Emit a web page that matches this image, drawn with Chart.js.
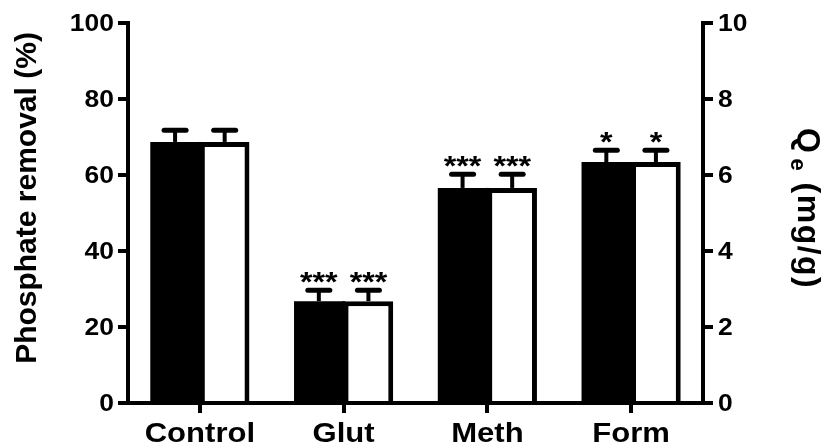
<!DOCTYPE html>
<html>
<head>
<meta charset="utf-8">
<script src="https://cdn.jsdelivr.net/npm/chart.js@4"></script>
<style>
  html, body { margin: 0; padding: 0; background: #ffffff; }
  canvas { display: block; }
</style>
</head>
<body>
<canvas id="chart" width="827" height="447"></canvas>
<script>
// Treatment groups on the x axis
const categories = ['Control', 'Glut', 'Meth', 'Form'];

// Phosphate removal (%) - left axis, filled bars
const removalPct = [68.7, 26.8, 56.6, 63.4];
const removalErr = [3.1, 2.9, 3.6, 3.1];
const removalStars = ['', '***', '***', '*'];

// Adsorption capacity Qe (mg/g) - right axis, open bars
const qeValues = [6.87, 2.68, 5.66, 6.34];
const qeErr = [0.31, 0.29, 0.36, 0.31];
const qeStars = ['', '***', '***', '*'];

// Axis tick values
const leftTicks = [0, 20, 40, 60, 80, 100];
const rightTicks = [0, 2, 4, 6, 8, 10];

const FONT = "'Liberation Sans', Arial, Helvetica, sans-serif";
const INK = '#000000';
const TEXT_STRETCH = 1.15;   // labels are set slightly wide

const errorInfo = [
  { err: removalErr, stars: removalStars },
  { err: qeErr, stars: qeStars }
];

function wideText(ctx, text, x, y, align) {
  ctx.save();
  ctx.translate(x, y);
  ctx.scale(TEXT_STRETCH, 1);
  ctx.textAlign = align;
  ctx.fillText(text, 0, 0);
  ctx.restore();
}

// Closes the anti-aliased seam where the filled and open bars of a pair meet
const pairSeamPlugin = {
  id: 'pairSeam',
  afterDatasetsDraw(chart) {
    const ctx = chart.ctx;
    const filled = chart.getDatasetMeta(0).data;
    const open = chart.getDatasetMeta(1).data;
    ctx.save();
    ctx.fillStyle = INK;
    filled.forEach((b, i) => {
      const o = open[i];
      const edge = b.x + b.width / 2;
      const top = Math.max(b.y, o.y);
      const base = Math.min(b.base, o.base);
      ctx.fillRect(edge - 1.5, top, 3, base - top);
    });
    ctx.restore();
  }
};

// Upward error bars with significance marks above each bar
const errorBarPlugin = {
  id: 'errorBars',
  afterDatasetsDraw(chart) {
    const ctx = chart.ctx;
    chart.data.datasets.forEach((ds, d) => {
      const meta = chart.getDatasetMeta(d);
      const scale = chart.scales[ds.yAxisID];
      const info = errorInfo[d];
      meta.data.forEach((bar, i) => {
        const v = ds.data[i];
        const yTop = scale.getPixelForValue(v);
        const yCap = scale.getPixelForValue(v + info.err[i]);
        const x = bar.x;
        ctx.save();
        ctx.strokeStyle = INK;
        ctx.lineCap = 'butt';
        ctx.lineWidth = 4;
        ctx.beginPath();
        ctx.moveTo(x, yTop);
        ctx.lineTo(x, yCap);
        ctx.stroke();
        ctx.lineCap = 'round';
        ctx.lineWidth = 5;
        ctx.beginPath();
        ctx.moveTo(x - 11, yCap);
        ctx.lineTo(x + 11, yCap);
        ctx.stroke();
        const s = info.stars[i];
        if (s) {
          ctx.fillStyle = INK;
          ctx.font = 'bold 28px ' + FONT;
          ctx.textBaseline = 'alphabetic';
          wideText(ctx, s, x, yCap + 1, 'center');
        }
        ctx.restore();
      });
    });
  }
};

// Tick labels and axis titles
const labelPlugin = {
  id: 'axisLabels',
  afterDraw(chart) {
    const ctx = chart.ctx;
    const { x: xs, y: ys, y2: rs } = chart.scales;
    ctx.save();
    ctx.fillStyle = INK;
    ctx.textBaseline = 'alphabetic';

    // Category names under the x axis
    ctx.font = 'bold 27px ' + FONT;
    categories.forEach((c, i) => {
      wideText(ctx, c, xs.getPixelForValue(i), 442, 'center');
    });

    // Left and right value ticks
    ctx.font = 'bold 23px ' + FONT;
    leftTicks.forEach(v => {
      wideText(ctx, String(v), ys.left + ys.width - 14, ys.getPixelForValue(v) + 8, 'right');
    });
    rightTicks.forEach(v => {
      wideText(ctx, String(v), rs.left + 15, rs.getPixelForValue(v) + 8, 'left');
    });

    // Left title, reading bottom to top
    ctx.save();
    ctx.translate(36, 198);
    ctx.rotate(-Math.PI / 2);
    ctx.font = 'bold 30px ' + FONT;
    ctx.textAlign = 'center';
    ctx.fillText('Phosphate removal (%)', 0, 0);
    ctx.restore();

    // Right title, reading top to bottom: Q with subscript e, then units
    ctx.save();
    ctx.translate(798, 128);
    ctx.rotate(Math.PI / 2);
    ctx.textAlign = 'left';
    if ('letterSpacing' in ctx) ctx.letterSpacing = '1.5px';
    ctx.font = 'bold 32px ' + FONT;
    ctx.fillText('Q', 0, 0);
    let x = ctx.measureText('Q').width + 4;
    ctx.font = 'bold 22px ' + FONT;
    ctx.fillText('e', x, 7);
    x += ctx.measureText('e').width;
    ctx.font = 'bold 32px ' + FONT;
    ctx.fillText(' (mg/g)', x, 0);
    ctx.restore();

    ctx.restore();
  }
};

const axisGrid = {
  display: true,
  drawOnChartArea: false,
  drawTicks: true,
  tickLength: 10,
  tickWidth: 4,
  tickColor: INK,
  lineWidth: 4,
  color: INK
};
const axisBorder = { display: true, width: 4, color: INK };

new Chart(document.getElementById('chart'), {
  type: 'bar',
  data: {
    labels: categories,
    datasets: [
      {
        label: 'Phosphate removal (%)',
        data: removalPct,
        yAxisID: 'y',
        backgroundColor: INK,
        borderColor: INK,
        borderWidth: 0,
        inflateAmount: 0,
        categoryPercentage: 0.69,
        barPercentage: 1.0
      },
      {
        label: 'Qe (mg/g)',
        data: qeValues,
        yAxisID: 'y2',
        backgroundColor: '#ffffff',
        borderColor: INK,
        borderWidth: 5,
        borderSkipped: 'start',
        inflateAmount: 0,
        categoryPercentage: 0.69,
        barPercentage: 1.0
      }
    ]
  },
  options: {
    responsive: false,
    animation: false,
    devicePixelRatio: 1,
    layout: { padding: { top: 23, left: 0, right: 0, bottom: 0 } },
    plugins: {
      legend: { display: false },
      tooltip: { enabled: false },
      title: { display: false }
    },
    scales: {
      x: {
        type: 'category',
        offset: true,
        grid: Object.assign({}, axisGrid, { offset: false }),
        border: axisBorder,
        ticks: { display: false, autoSkip: false },
        afterFit(scale) { scale.height = 44; }
      },
      y: {
        position: 'left',
        min: 0,
        max: 100,
        grid: axisGrid,
        border: axisBorder,
        afterBuildTicks(scale) { scale.ticks = leftTicks.map(v => ({ value: v })); },
        ticks: { display: false },
        afterFit(scale) { scale.width = 128; }
      },
      y2: {
        position: 'right',
        min: 0,
        max: 10,
        grid: axisGrid,
        border: axisBorder,
        afterBuildTicks(scale) { scale.ticks = rightTicks.map(v => ({ value: v })); },
        ticks: { display: false },
        afterFit(scale) { scale.width = 124; }
      }
    }
  },
  plugins: [pairSeamPlugin, errorBarPlugin, labelPlugin]
});
</script>
</body>
</html>
